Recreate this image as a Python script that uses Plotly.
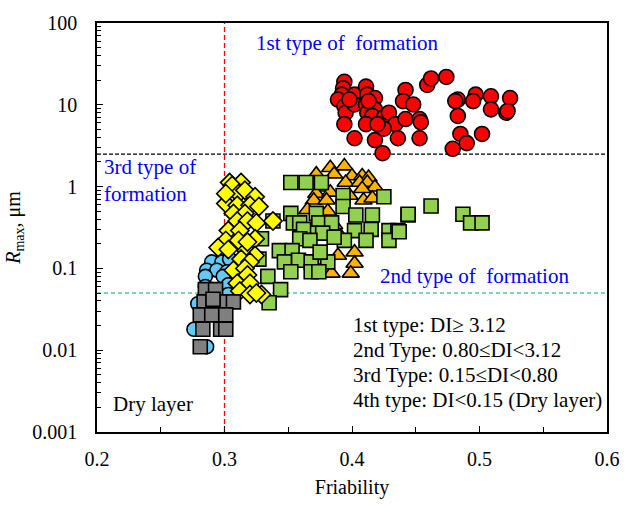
import plotly.graph_objects as go

# ---- data ----
red_x = [0.394, 0.393, 0.392, 0.389, 0.394, 0.395, 0.402, 0.402, 0.411, 0.412, 0.418, 0.411, 0.412,
         0.418, 0.416, 0.425, 0.429, 0.434, 0.442, 0.440, 0.448, 0.442, 0.453, 0.454, 0.394, 0.402,
         0.411, 0.418, 0.425, 0.420, 0.436, 0.453, 0.424, 0.459, 0.462, 0.474, 0.483, 0.481, 0.483,
         0.485, 0.479, 0.490, 0.502, 0.497, 0.495, 0.509, 0.509, 0.521, 0.524, 0.522, 0.413, 0.398]
red_y = [19.1, 15.9, 13.3, 11.6, 9.6, 8.0, 13.3, 10.1, 16.7, 13.3, 12.1, 10.1, 8.0,
         8.8, 7.3, 7.0, 8.0, 5.8, 15.2, 11.1, 10.1, 6.7, 6.7, 6.1, 5.8, 3.9,
         5.8, 3.7, 5.1, 5.8, 3.9, 3.9, 2.56, 17.5, 21.0, 21.9, 11.6, 11.1, 7.3,
         4.4, 2.9, 3.4, 4.4, 13.3, 11.1, 12.7, 8.8, 8.0, 12.1, 8.4, 11.1, 11.6]

orange_x = [0.383, 0.394, 0.372, 0.386, 0.400, 0.408, 0.413, 0.395, 0.406, 0.412, 0.418, 0.408,
            0.377, 0.372, 0.383, 0.398, 0.370, 0.380, 0.409, 0.416, 0.365, 0.381, 0.384, 0.390,
            0.371, 0.389, 0.402, 0.402, 0.399, 0.384, 0.386]
orange_y = [1.7, 1.78, 1.42, 1.42, 1.35, 1.35, 1.29, 1.12, 1.12, 1.12, 0.98, 0.94,
            0.98, 0.82, 0.85, 0.78, 0.68, 0.68, 0.68, 0.72, 0.52, 0.50, 0.30, 0.26,
            0.126, 0.144, 0.158, 0.115, 0.087, 0.087, 0.34]

green_x = [0.352, 0.364, 0.376, 0.393, 0.425, 0.393, 0.403, 0.416, 0.444, 0.352, 0.372, 0.354,
           0.359, 0.338, 0.374, 0.384, 0.402, 0.415, 0.429, 0.436, 0.367, 0.362, 0.377, 0.329,
           0.359, 0.367, 0.394, 0.411, 0.429, 0.343, 0.353, 0.358, 0.347, 0.368, 0.381, 0.375,
           0.352, 0.368, 0.374, 0.334, 0.344, 0.335, 0.386, 0.327, 0.444, 0.462, 0.487, 0.493,
           0.502, 0.437]
green_y = [1.12, 1.12, 1.12, 0.78, 0.75, 0.57, 0.45, 0.45, 0.45, 0.47, 0.47, 0.36,
           0.36, 0.38, 0.36, 0.36, 0.29, 0.30, 0.29, 0.29, 0.27, 0.30, 0.27, 0.23,
           0.23, 0.22, 0.22, 0.22, 0.22, 0.165, 0.165, 0.126, 0.12, 0.12, 0.12, 0.158,
           0.091, 0.091, 0.091, 0.08, 0.055, 0.038, 0.24, 0.13, 0.46, 0.58, 0.46, 0.36,
           0.36, 0.28]

yellow_x = [0.304, 0.313, 0.306, 0.311, 0.316, 0.324, 0.301, 0.310, 0.320, 0.327, 0.307, 0.316,
            0.310, 0.318, 0.325, 0.338, 0.303, 0.312, 0.324, 0.301, 0.311, 0.295, 0.303, 0.317,
            0.324, 0.313, 0.320, 0.307, 0.316, 0.318, 0.310, 0.320, 0.312, 0.320, 0.329, 0.301,
            0.318, 0.325]
yellow_y = [1.12, 1.12, 1.03, 0.82, 0.90, 0.75, 0.62, 0.59, 0.59, 0.57, 0.47, 0.47,
            0.38, 0.38, 0.36, 0.38, 0.29, 0.29, 0.23, 0.22, 0.22, 0.18, 0.17, 0.165,
            0.144, 0.13, 0.12, 0.095, 0.10, 0.083, 0.066, 0.066, 0.053, 0.048, 0.048, 0.82,
            0.21, 0.05]

blue_x = [0.290, 0.298, 0.304, 0.286, 0.294, 0.302, 0.285, 0.299, 0.303, 0.285, 0.276, 0.286,
          0.303, 0.279]
blue_y = [0.12, 0.12, 0.13, 0.095, 0.095, 0.091, 0.08, 0.08, 0.063, 0.06, 0.018, 0.011,
          0.048, 0.037]

gray_x = [0.285, 0.293, 0.284, 0.298, 0.307, 0.291, 0.281, 0.290, 0.301, 0.283, 0.297, 0.301,
          0.281, 0.291]
gray_y = [0.055, 0.055, 0.039, 0.039, 0.039, 0.039, 0.027, 0.027, 0.027, 0.018, 0.018, 0.018,
          0.011, 0.042]

x_ticks = [0.2, 0.3, 0.4, 0.5, 0.6]
y_ticks = [0.001, 0.01, 0.1, 1, 10, 100]
y_tick_text = ["0.001", "0.01", "0.1", "1", "10", "100"]

DI_lines = ["1st type: DI\u2265 3.12", "2nd Type: 0.80\u2264DI<3.12",
            "3rd Type: 0.15\u2264DI<0.80", "4th type: DI<0.15 (Dry layer)"]

FONT = "Liberation Serif, Times New Roman, serif"

fig = go.Figure()

def add(x, y, symbol, color, size):
    fig.add_trace(go.Scatter(x=x, y=y, mode="markers",
                             marker=dict(symbol=symbol, color=color, size=size,
                                         line=dict(color="black", width=1.6)),
                             showlegend=False, hoverinfo="skip"))

add(red_x, red_y, "circle", "#FF0000", 15)
add(orange_x, orange_y, "triangle-up", "#FFB300", 15)
add(green_x, green_y, "square", "#92D050", 14)
add(blue_x, blue_y, "circle", "#66C8F4", 14)
add(yellow_x, yellow_y, "diamond", "#FFFF00", 14)
add(gray_x, gray_y, "square", "#808080", 14)

# reference lines
fig.add_shape(type="line", xref="paper", x0=0, x1=1, yref="y", y0=2.5, y1=2.5,
              line=dict(color="black", width=1.3, dash="4px,2px"), layer="below")
fig.add_shape(type="line", xref="paper", x0=0, x1=1, yref="y", y0=0.05, y1=0.05,
              line=dict(color="#00B050", width=1.2, dash="4px,3px"), layer="below")
fig.add_shape(type="line", xref="x", x0=0.3, x1=0.3, yref="paper", y0=0, y1=1,
              line=dict(color="#FF0000", width=1.3, dash="5px,3px"), layer="below")

blue = "#0000FF"
fig.add_annotation(x=0.396, y=1.75, text="1st type of  formation",
                   showarrow=False, font=dict(family=FONT, size=21, color=blue))
fig.add_annotation(x=0.204, y=0.08, text="3rd type of<br>formation", align="left",
                   xanchor="left", showarrow=False, font=dict(family=FONT, size=21, color=blue))
fig.add_annotation(x=0.496, y=-1.095, text="2nd type of  formation",
                   showarrow=False, font=dict(family=FONT, size=21, color=blue))
fig.add_annotation(x=0.211, y=-2.66, text="Dry layer", xanchor="left",
                   showarrow=False, font=dict(family=FONT, size=21, color="black"))
for i, t in enumerate(DI_lines):
    fig.add_annotation(x=0.399, y=-1.69 - i * 0.306, text=t, xanchor="left",
                       showarrow=False, font=dict(family=FONT, size=21, color="black"))

axis_common = dict(showgrid=False, zeroline=False, showline=True, linecolor="black",
                   linewidth=1.5, mirror=True, ticks="inside", tickcolor="black",
                   tickfont=dict(family=FONT, size=20, color="black"))

fig.update_xaxes(range=[0.2, 0.6], tickvals=x_ticks, ticklen=6, ticklabelstandoff=8,
                 minor=dict(ticks="inside", ticklen=5, dtick=0.05, tickcolor="black"),
                 title=dict(text="Friability", font=dict(family=FONT, size=20, color="black"),
                            standoff=11),
                 **axis_common)
fig.update_yaxes(type="log", range=[-3, 2], tickvals=y_ticks, ticktext=y_tick_text, ticklen=6,
                 ticklabelstandoff=14,
                 minor=dict(ticks="inside", ticklen=4, dtick="D1", tickcolor="black"),
                 title=dict(text="<i>R</i><sub>max</sub>, \u03bcm",
                            font=dict(family=FONT, size=20, color="black"), standoff=6),
                 **axis_common)

fig.update_layout(width=632, height=507, plot_bgcolor="white", paper_bgcolor="white",
                  margin=dict(l=96, r=17, t=18, b=69), showlegend=False,
                  font=dict(family=FONT))

fig.write_html("out.html")
